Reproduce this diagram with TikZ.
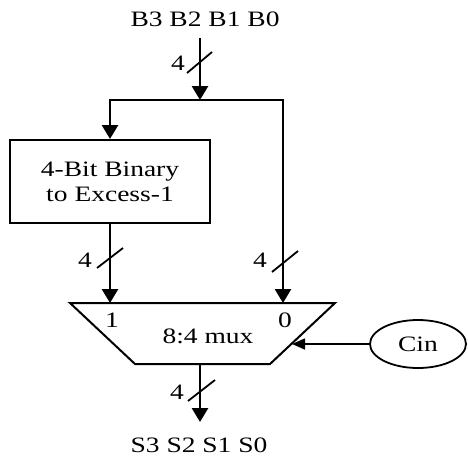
\documentclass[tikz,border=0pt]{standalone}
\usepackage{fontspec}
\setmainfont{Liberation Serif}[FakeStretch=1.25]
\usetikzlibrary{positioning,arrows.meta,shapes.geometric,calc}
\tikzset{
    bus/.style={
        -{Triangle[width=16pt,length=14pt]},
        line width=2.8pt,
    },
    sel/.style={
        -{Triangle[width=11pt,length=13pt]},
        line width=1.6pt,
    },
    slash/.style={
        line width=1.8pt,
    },
    convbox/.style={
        rectangle,
        draw,
        line width=2pt,
        minimum width=200pt,
        minimum height=83pt,
        align=center,
    },
    muxline/.style={
        line width=2pt,
        line join=miter,
    },
    cinnode/.style={
        ellipse,
        draw,
        line width=1.8pt,
        minimum width=96pt,
        minimum height=48pt,
    },
    txt/.style={
        inner sep=0pt,
    },
}
\begin{document}
\begin{tikzpicture}[x=1pt,y=-1pt,every node/.style={font=\fontsize{22}{25}\selectfont}]
    \useasboundingbox (0,0) rectangle (468,456);

    % inputs and split
    \node[txt] (inlbl) at (205,19) {B3 B2 B1 B0};
    \coordinate (intop) at (200,38);
    \coordinate (split) at (200,100);
    \draw[bus] (intop) -- (split);

    % converter
    \node[convbox] (conv) at (110,181.5) {4-Bit Binary\\to Excess-1};

    % mux
    \draw[muxline] (70,303) -- (335,303) -- (270,364) -- (135,364) -- cycle;
    \coordinate (mux in1) at (110,303);
    \coordinate (mux in0) at (283,303);
    \coordinate (mux out) at (200,364);
    \coordinate (mux sel) at (292,344);
    \node[txt] (one) at (112,320) {1};
    \node[txt] (zero) at (285,320) {0};
    \node[txt] (muxlbl) at (208,336) {8:4 mux};

    \draw[bus] (split) -| (conv.north);
    \draw[bus] (split) -| (mux in0);
    \draw[bus] (conv.south) -- (mux in1);

    % carry in
    \node[cinnode] (cin) at (418,344) {Cin};
    \draw[sel] (cin.west) -- (mux sel);

    % output
    \coordinate (outtip) at (200,422);
    \draw[bus] (mux out) -- (outtip);
    \node[txt] (outlbl) at (199,445) {S3 S2 S1 S0};

    % bus widths
    \draw[slash] (187,73) -- (212,52);
    \node[txt] (w1) at (178,63) {4};
    \draw[slash] (97,268) -- (123,248);
    \node[txt] (w2) at (85,260) {4};
    \draw[slash] (272,272) -- (298,251);
    \node[txt] (w3) at (260,260) {4};
    \draw[slash] (188,401) -- (215,380);
    \node[txt] (w4) at (177,392) {4};
\end{tikzpicture}
\end{document}
